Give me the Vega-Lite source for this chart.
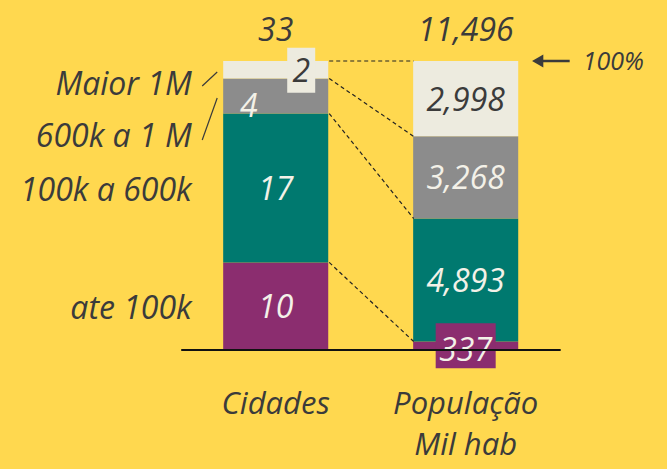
{
  "$schema": "https://vega.github.io/schema/vega-lite/v6.json",
  "width": 667,
  "height": 350,
  "autosize": {"type": "none"},
  "padding": {"left": 0, "top": 0, "right": 0, "bottom": 119},
  "background": "#FFD84F",
  "config": {
    "view": {"stroke": null},
    "axisY": {"disable": true},
    "text": {"font": "Open Sans", "fontStyle": "italic", "fontSize": 32, "baseline": "middle"}
  },
  "datasets": {
    "segs": [
      {"bar": "Cidades", "cat": "ate 100k", "order": 1, "value": 10},
      {"bar": "Cidades", "cat": "100k a 600k", "order": 2, "value": 17},
      {"bar": "Cidades", "cat": "600k a 1 M", "order": 3, "value": 4},
      {"bar": "Cidades", "cat": "Maior 1M", "order": 4, "value": 2},
      {"bar": "População", "cat": "ate 100k", "order": 1, "value": 337},
      {"bar": "População", "cat": "100k a 600k", "order": 2, "value": 4893},
      {"bar": "População", "cat": "600k a 1 M", "order": 3, "value": 3268},
      {"bar": "População", "cat": "Maior 1M", "order": 4, "value": 2998}
    ],
    "one": [{"k": 1}]
  },
  "layer": [
    {
      "data": {"name": "segs"},
      "transform": [
        {"stack": "value", "groupby": ["bar"], "sort": [{"field": "order", "order": "ascending"}], "offset": "normalize", "as": ["y0", "y1"]}
      ],
      "mark": {"type": "bar"},
      "encoding": {
        "x": {
          "field": "bar", "type": "nominal",
          "scale": {"domain": ["Cidades", "População"], "paddingInner": 0.447, "paddingOuter": 0.979, "align": 0.6},
          "axis": {
            "title": null, "domain": false, "ticks": false, "labelAngle": 0,
            "labelFont": "Open Sans", "labelFontStyle": "italic", "labelFontSize": 31,
            "labelColor": "#3B3B3B", "labelPadding": 39, "labelLineHeight": 41,
            "labelExpr": "datum.value == 'População' ? ['População', 'Mil hab'] : datum.value"
          }
        },
        "y": {"field": "y0", "type": "quantitative", "scale": {"domain": [0, 1.2111], "nice": false, "zero": false}, "axis": null},
        "y2": {"field": "y1"},
        "color": {
          "field": "cat", "type": "nominal",
          "scale": {"domain": ["ate 100k", "100k a 600k", "600k a 1 M", "Maior 1M"], "range": ["#8B2D6F", "#00796F", "#8C8C8C", "#EDEBDF"]},
          "legend": null
        }
      }
    },
    {
      "data": {"name": "segs"},
      "transform": [
        {"stack": "value", "groupby": ["bar"], "sort": [{"field": "order", "order": "ascending"}], "offset": "normalize", "as": ["y0", "y1"]},
        {"pivot": "bar", "value": "y1", "groupby": ["cat"]}
      ],
      "mark": {"type": "rule", "strokeDash": [4, 3], "strokeWidth": 1.2, "color": "#222222", "xOffset": 53.5, "x2Offset": -52},
      "encoding": {
        "x": {"datum": "Cidades", "type": "nominal"},
        "x2": {"datum": "População"},
        "y": {"field": "Cidades", "type": "quantitative"},
        "y2": {"field": "População"}
      }
    },
    {
      "data": {"name": "segs"},
      "transform": [
        {"stack": "value", "groupby": ["bar"], "sort": [{"field": "order", "order": "ascending"}], "offset": "normalize", "as": ["y0", "y1"]},
        {"calculate": "(datum.y0 + datum.y1) / 2", "as": "mid"},
        {"filter": "!(datum.bar == 'Cidades' && (datum.cat == 'Maior 1M' || datum.cat == '600k a 1 M')) && !(datum.bar == 'População' && datum.cat == 'ate 100k')"}
      ],
      "mark": {"type": "text", "dy": 2},
      "encoding": {
        "x": {"field": "bar", "type": "nominal"},
        "y": {"field": "mid", "type": "quantitative"},
        "text": {"field": "value", "type": "quantitative", "format": ","},
        "color": {"condition": {"test": "datum.cat == 'Maior 1M'", "value": "#3B3B3B"}, "value": "#F3F1E8"}
      }
    },
    {
      "data": {"name": "segs"},
      "transform": [
        {"stack": "value", "groupby": ["bar"], "sort": [{"field": "order", "order": "ascending"}], "offset": "normalize", "as": ["y0", "y1"]},
        {"calculate": "(datum.y0 + datum.y1) / 2", "as": "mid"},
        {"filter": "datum.bar == 'Cidades' && datum.cat == '600k a 1 M'"}
      ],
      "mark": {"type": "text", "xOffset": -27, "yOffset": 11, "color": "#F3F1E8"},
      "encoding": {
        "x": {"field": "bar", "type": "nominal"},
        "y": {"field": "mid", "type": "quantitative"},
        "text": {"field": "value", "type": "quantitative", "format": ","}
      }
    },
    {
      "data": {"name": "segs"},
      "transform": [
        {"stack": "value", "groupby": ["bar"], "sort": [{"field": "order", "order": "ascending"}], "offset": "normalize", "as": ["y0", "y1"]},
        {"calculate": "(datum.y0 + datum.y1) / 2", "as": "mid"},
        {"filter": "datum.bar == 'Cidades' && datum.cat == 'Maior 1M'"}
      ],
      "layer": [
        {
          "mark": {"type": "point", "shape": "M-1,-1.607H1V1.607H-1Z", "size": 784, "filled": true, "opacity": 1, "color": "#EDEBDF", "xOffset": 25.5, "yOffset": 0.5},
          "encoding": {"x": {"field": "bar", "type": "nominal"}, "y": {"field": "mid", "type": "quantitative"}}
        },
        {
          "mark": {"type": "text", "xOffset": 25.5, "dy": 2, "color": "#3B3B3B"},
          "encoding": {
            "x": {"field": "bar", "type": "nominal"},
            "y": {"field": "mid", "type": "quantitative"},
            "text": {"field": "value", "type": "quantitative", "format": ","}
          }
        }
      ]
    },
    {
      "data": {"name": "segs"},
      "transform": [
        {"stack": "value", "groupby": ["bar"], "sort": [{"field": "order", "order": "ascending"}], "offset": "normalize", "as": ["y0", "y1"]},
        {"calculate": "(datum.y0 + datum.y1) / 2", "as": "mid"},
        {"filter": "datum.bar == 'População' && datum.cat == 'ate 100k'"}
      ],
      "layer": [
        {
          "mark": {"type": "point", "shape": "M-1,-0.75H1V0.75H-1Z", "size": 3600, "filled": true, "opacity": 1, "color": "#8B2D6F"},
          "encoding": {"x": {"field": "bar", "type": "nominal"}, "y": {"field": "mid", "type": "quantitative"}}
        },
        {
          "mark": {"type": "text", "dy": 5, "color": "#F3F1E8"},
          "encoding": {
            "x": {"field": "bar", "type": "nominal"},
            "y": {"field": "mid", "type": "quantitative"},
            "text": {"field": "value", "type": "quantitative", "format": ","}
          }
        }
      ]
    },
    {
      "data": {"name": "segs"},
      "transform": [
        {"aggregate": [{"op": "sum", "field": "value", "as": "total"}], "groupby": ["bar"]}
      ],
      "mark": {"type": "text", "dy": -30, "color": "#3B3B3B"},
      "encoding": {
        "x": {"field": "bar", "type": "nominal"},
        "y": {"datum": 1, "type": "quantitative"},
        "text": {"field": "total", "type": "quantitative", "format": ","}
      }
    },
    {
      "data": {"name": "one"},
      "mark": {"type": "rule", "color": "#111111", "strokeWidth": 2, "xOffset": -94.5, "x2Offset": 95},
      "encoding": {
        "x": {"datum": "Cidades", "type": "nominal"},
        "x2": {"datum": "População"},
        "y": {"datum": 0, "type": "quantitative"}
      }
    },
    {
      "data": {"name": "segs"},
      "transform": [
        {"stack": "value", "groupby": ["bar"], "sort": [{"field": "order", "order": "ascending"}], "offset": "normalize", "as": ["y0", "y1"]},
        {"calculate": "(datum.y0 + datum.y1) / 2", "as": "mid"},
        {"filter": "datum.bar == 'Cidades'"}
      ],
      "layer": [
        {
          "transform": [{"filter": "datum.cat == 'ate 100k' || datum.cat == '100k a 600k'"}],
          "mark": {"type": "text", "align": "right", "xOffset": -84, "dy": 3, "color": "#3B3B3B"},
          "encoding": {"x": {"field": "bar", "type": "nominal"}, "y": {"field": "mid", "type": "quantitative"}, "text": {"field": "cat"}}
        },
        {
          "transform": [{"filter": "datum.cat == 'Maior 1M'"}],
          "mark": {"type": "text", "align": "right", "xOffset": -84, "dy": 15, "color": "#3B3B3B"},
          "encoding": {"x": {"field": "bar", "type": "nominal"}, "y": {"field": "mid", "type": "quantitative"}, "text": {"field": "cat"}}
        },
        {
          "transform": [{"filter": "datum.cat == '600k a 1 M'"}],
          "mark": {"type": "text", "align": "right", "xOffset": -84, "dy": 41, "color": "#3B3B3B"},
          "encoding": {"x": {"field": "bar", "type": "nominal"}, "y": {"field": "mid", "type": "quantitative"}, "text": {"field": "cat"}}
        }
      ]
    },
    {
      "data": {"name": "one"},
      "layer": [
        {
          "mark": {"type": "rule", "color": "#3B3B3B", "strokeWidth": 1.2, "xOffset": -73.5, "x2Offset": -58.5, "yOffset": 25, "y2Offset": 11},
          "encoding": {"x": {"datum": "Cidades", "type": "nominal"}, "x2": {"datum": "Cidades"}, "y": {"datum": 1, "type": "quantitative"}, "y2": {"datum": 1}}
        },
        {
          "mark": {"type": "rule", "color": "#3B3B3B", "strokeWidth": 1.2, "xOffset": -73.5, "x2Offset": -58.5, "yOffset": 79, "y2Offset": 37},
          "encoding": {"x": {"datum": "Cidades", "type": "nominal"}, "x2": {"datum": "Cidades"}, "y": {"datum": 1, "type": "quantitative"}, "y2": {"datum": 1}}
        },
        {
          "mark": {"type": "rule", "color": "#3B3B3B", "strokeWidth": 2.5, "xOffset": 72, "x2Offset": 104},
          "encoding": {"x": {"datum": "População", "type": "nominal"}, "x2": {"datum": "População"}, "y": {"datum": 1, "type": "quantitative"}}
        },
        {
          "mark": {"type": "point", "shape": "triangle-left", "size": 170, "filled": true, "opacity": 1, "color": "#3B3B3B", "xOffset": 72},
          "encoding": {"x": {"datum": "População", "type": "nominal"}, "y": {"datum": 1, "type": "quantitative"}}
        },
        {
          "mark": {"type": "text", "align": "left", "xOffset": 117, "dy": 1, "fontSize": 25, "color": "#3B3B3B", "text": "100%"},
          "encoding": {"x": {"datum": "População", "type": "nominal"}, "y": {"datum": 1, "type": "quantitative"}}
        }
      ]
    }
  ]
}
